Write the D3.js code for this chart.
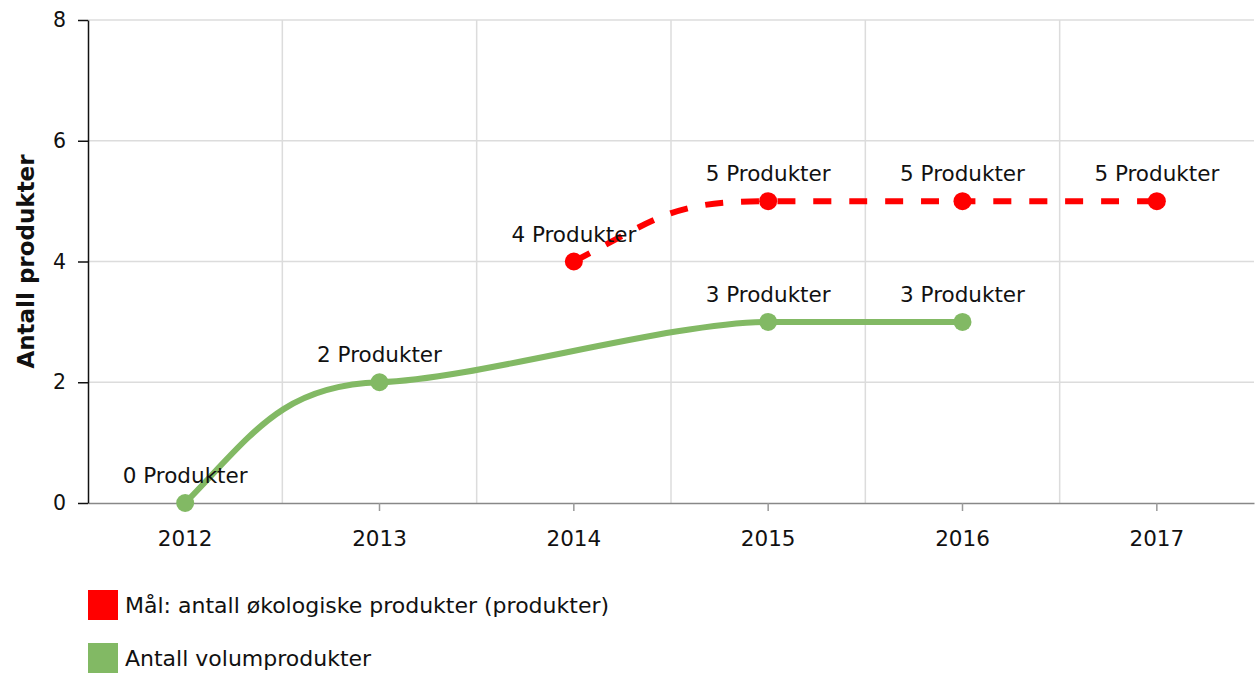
<!DOCTYPE html>
<html>
<head>
<meta charset="utf-8">
<script src="https://cdn.jsdelivr.net/npm/d3@7"></script>
<style>
  body { margin: 0; background: #fff; }
  text { font-family: "DejaVu Sans", Verdana, sans-serif; fill: #111; }
</style>
</head>
<body>
<div id="chart"></div>
<script>
const width = 1255;
const height = 675;
const margin = {top: 20, right: 1, bottom: 172, left: 88};
const graphWidth = width - margin.left - margin.right;
const graphHeight = height - margin.top - margin.bottom;

// categories and series
const years = ["2012", "2013", "2014", "2015", "2016", "2017"];
const targetYears = ["2014", "2015", "2016", "2017"];
const targetValues = [4, 5, 5, 5];
const volumeYears = ["2012", "2013", "2015", "2016"];
const volumeValues = [0, 2, 3, 3];
const yTicks = [0, 2, 4, 6, 8];
const seriesNames = ["Mål: antall økologiske produkter (produkter)", "Antall volumprodukter"];
const seriesColors = ["#ff0000", "#82b964"];

const svg = d3.select('#chart')
  .append('svg')
  .attr('width', width)
  .attr('height', height);

const graph = svg.append('g')
  .attr('transform', 'translate(' + margin.left + ',' + margin.top + ')');

const x = d3.scaleBand()
  .domain(years)
  .range([0, graphWidth])
  .padding(0);

const y = d3.scaleLinear()
  .domain([0, 8])
  .range([graphHeight, 0]);

const cx = d => x(d) + x.bandwidth() / 2;

// smooth curve: flat-ish tangents at inner points, steeper at the ends
const softCurve = len => context => {
  let pts;
  return {
    areaStart() {}, areaEnd() {},
    lineStart() { pts = []; },
    point(px, py) { pts.push([px, py]); },
    lineEnd() {
      const n = pts.length;
      if (!n) return;
      context.moveTo(pts[0][0], pts[0][1]);
      if (n === 1) return;
      const chord = i => (pts[i + 1][1] - pts[i][1]) / (pts[i + 1][0] - pts[i][0]);
      const m = pts.map((p, i) => {
        if (i === 0) return 1.65 * chord(0);
        if (i === n - 1) return 1.65 * chord(n - 2);
        const a = chord(i - 1), b = chord(i);
        if (a * b <= 0) return 0;
        return 0.2 * Math.sign(a) * Math.min(Math.abs(a), Math.abs(b));
      });
      const ctrl = (i, dir) => {
        const k = len / Math.sqrt(1 + m[i] * m[i]);
        return [pts[i][0] + dir * k, pts[i][1] + dir * k * m[i]];
      };
      for (let i = 0; i < n - 1; i++) {
        const c1 = ctrl(i, 1), c2 = ctrl(i + 1, -1);
        context.bezierCurveTo(c1[0], c1[1], c2[0], c2[1], pts[i + 1][0], pts[i + 1][1]);
      }
    }
  };
};

// grid lines
graph.append('g')
  .selectAll('line')
  .data(yTicks.slice(1))
  .enter().append('line')
  .attr('x1', 0).attr('x2', graphWidth)
  .attr('y1', d => y(d)).attr('y2', d => y(d))
  .attr('stroke', '#dcdcdc').attr('stroke-width', 1.5);

graph.append('g')
  .selectAll('line')
  .data(years.slice(1))
  .enter().append('line')
  .attr('x1', d => x(d)).attr('x2', d => x(d))
  .attr('y1', 0).attr('y2', graphHeight)
  .attr('stroke', '#dcdcdc').attr('stroke-width', 1.5);

// x axis
const xAxis = graph.append('g')
  .attr('transform', 'translate(0,' + graphHeight + ')')
  .call(d3.axisBottom(x).tickSize(8).tickSizeOuter(0).tickPadding(20));
xAxis.select('.domain').attr('stroke', '#888').attr('stroke-width', 1.5);
xAxis.selectAll('.tick line').attr('stroke', '#999').attr('stroke-width', 1.5);
xAxis.selectAll('text').attr('font-size', 21.5).style('font-family', '"DejaVu Sans", sans-serif').attr('fill', '#111');

// y axis
const yAxis = graph.append('g')
  .call(d3.axisLeft(y).tickValues(yTicks).tickSize(10).tickSizeOuter(0).tickPadding(12));
yAxis.select('.domain').attr('stroke', '#111').attr('stroke-width', 1.5);
yAxis.selectAll('.tick line').attr('stroke', '#111').attr('stroke-width', 1.5);
yAxis.selectAll('text').attr('font-size', 20.5).style('font-family', '"DejaVu Sans", sans-serif').attr('fill', '#111');

svg.append('text')
  .attr('transform', 'translate(34,' + (margin.top + graphHeight / 2) + ') rotate(-90)')
  .attr('text-anchor', 'middle')
  .attr('font-size', 23)
  .attr('font-weight', 'bold')
  .text('Antall produkter');

const line = d3.line()
  .x(d => cx(d.year))
  .y(d => y(d.value))
  .curve(softCurve(x.step() / 2));

const drawSeries = (yrs, vals, color, dashed) => {
  const data = yrs.map((yr, i) => ({year: yr, value: vals[i]}));
  graph.append('path')
    .datum(data)
    .attr('d', line)
    .attr('fill', 'none')
    .attr('stroke', color)
    .attr('stroke-width', 6)
    .attr('stroke-dasharray', dashed ? '18,18' : null);
  graph.selectAll(null)
    .data(data)
    .enter().append('circle')
    .attr('cx', d => cx(d.year))
    .attr('cy', d => y(d.value))
    .attr('r', 9)
    .attr('fill', color);
  graph.selectAll(null)
    .data(data)
    .enter().append('text')
    .attr('x', d => cx(d.year))
    .attr('y', d => y(d.value) - 20)
    .attr('text-anchor', 'middle')
    .attr('font-size', 21.5)
    .text(d => d.value + ' Produkter');
};

drawSeries(volumeYears, volumeValues, seriesColors[1], false);
drawSeries(targetYears, targetValues, seriesColors[0], true);

// legend
const legend = svg.append('g')
  .attr('transform', 'translate(88,590)');
seriesNames.forEach((name, i) => {
  legend.append('rect')
    .attr('x', 0).attr('y', i * 53)
    .attr('width', 30).attr('height', 30)
    .attr('fill', seriesColors[i]);
  legend.append('text')
    .attr('x', 37).attr('y', i * 53 + 23)
    .attr('font-size', 22)
    .text(name);
});
</script>
</body>
</html>
